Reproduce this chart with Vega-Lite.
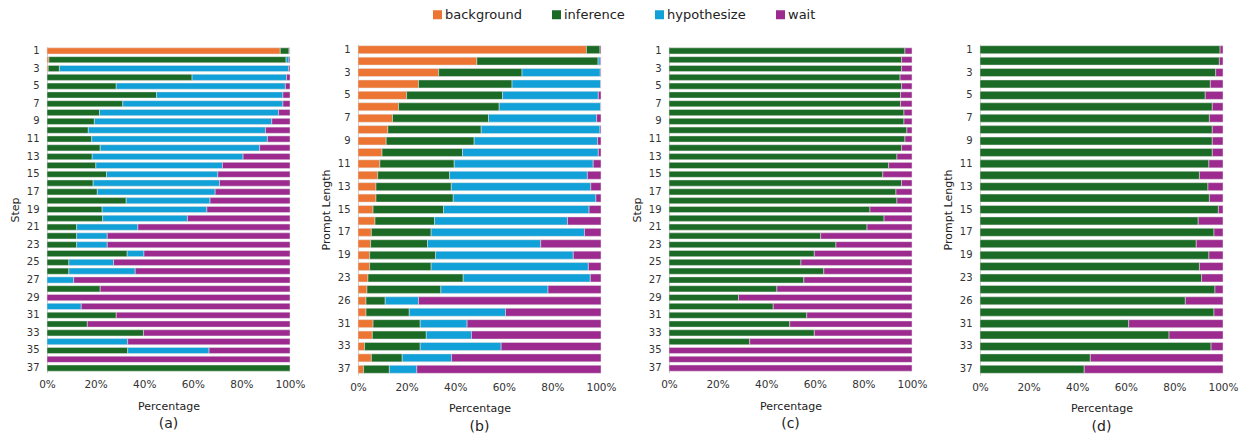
{
  "$schema": "https://vega.github.io/schema/vega-lite/v6.json",
  "background": "white",
  "padding": {"left": 9, "top": 8, "right": 5, "bottom": 5},
  "bounds": "flush",
  "center": true,
  "spacing": 68,
  "datasets": {
    "a": [
      {"step":1,"behavior":"background","pct":96.0},{"step":1,"behavior":"inference","pct":3.6},{"step":1,"behavior":"hypothesize","pct":0.2},{"step":1,"behavior":"wait","pct":0.2},
      {"step":2,"behavior":"background","pct":0.8},{"step":2,"behavior":"inference","pct":97.6},{"step":2,"behavior":"hypothesize","pct":1.2},{"step":2,"behavior":"wait","pct":0.4},
      {"step":3,"behavior":"background","pct":0.5},{"step":3,"behavior":"inference","pct":4.6},{"step":3,"behavior":"hypothesize","pct":94.4},{"step":3,"behavior":"wait","pct":0.5},
      {"step":4,"behavior":"inference","pct":59.7},{"step":4,"behavior":"hypothesize","pct":38.9},{"step":4,"behavior":"wait","pct":1.4},
      {"step":5,"behavior":"inference","pct":28.5},{"step":5,"behavior":"hypothesize","pct":69.6},{"step":5,"behavior":"wait","pct":1.9},
      {"step":6,"behavior":"inference","pct":45.1},{"step":6,"behavior":"hypothesize","pct":52.0},{"step":6,"behavior":"wait","pct":2.9},
      {"step":7,"behavior":"inference","pct":31.2},{"step":7,"behavior":"hypothesize","pct":65.9},{"step":7,"behavior":"wait","pct":2.9},
      {"step":8,"behavior":"inference","pct":21.6},{"step":8,"behavior":"hypothesize","pct":73.7},{"step":8,"behavior":"wait","pct":4.7},
      {"step":9,"behavior":"inference","pct":19.5},{"step":9,"behavior":"hypothesize","pct":73.0},{"step":9,"behavior":"wait","pct":7.5},
      {"step":10,"behavior":"inference","pct":17.0},{"step":10,"behavior":"hypothesize","pct":72.9},{"step":10,"behavior":"wait","pct":10.1},
      {"step":11,"behavior":"inference","pct":18.4},{"step":11,"behavior":"hypothesize","pct":72.3},{"step":11,"behavior":"wait","pct":9.3},
      {"step":12,"behavior":"inference","pct":21.9},{"step":12,"behavior":"hypothesize","pct":65.6},{"step":12,"behavior":"wait","pct":12.5},
      {"step":13,"behavior":"inference","pct":18.6},{"step":13,"behavior":"hypothesize","pct":62.1},{"step":13,"behavior":"wait","pct":19.3},
      {"step":14,"behavior":"inference","pct":20.1},{"step":14,"behavior":"hypothesize","pct":52.1},{"step":14,"behavior":"wait","pct":27.8},
      {"step":15,"behavior":"inference","pct":24.5},{"step":15,"behavior":"hypothesize","pct":45.8},{"step":15,"behavior":"wait","pct":29.7},
      {"step":16,"behavior":"inference","pct":19.0},{"step":16,"behavior":"hypothesize","pct":52.0},{"step":16,"behavior":"wait","pct":29.0},
      {"step":17,"behavior":"inference","pct":20.7},{"step":17,"behavior":"hypothesize","pct":48.5},{"step":17,"behavior":"wait","pct":30.8},
      {"step":18,"behavior":"inference","pct":32.6},{"step":18,"behavior":"hypothesize","pct":34.5},{"step":18,"behavior":"wait","pct":32.9},
      {"step":19,"behavior":"inference","pct":22.7},{"step":19,"behavior":"hypothesize","pct":43.1},{"step":19,"behavior":"wait","pct":34.2},
      {"step":20,"behavior":"inference","pct":22.9},{"step":20,"behavior":"hypothesize","pct":34.9},{"step":20,"behavior":"wait","pct":42.2},
      {"step":21,"behavior":"inference","pct":12.2},{"step":21,"behavior":"hypothesize","pct":25.2},{"step":21,"behavior":"wait","pct":62.6},
      {"step":22,"behavior":"inference","pct":12.2},{"step":22,"behavior":"hypothesize","pct":12.6},{"step":22,"behavior":"wait","pct":75.2},
      {"step":23,"behavior":"inference","pct":12.2},{"step":23,"behavior":"hypothesize","pct":12.6},{"step":23,"behavior":"wait","pct":75.2},
      {"step":24,"behavior":"inference","pct":33.0},{"step":24,"behavior":"hypothesize","pct":6.9},{"step":24,"behavior":"wait","pct":60.1},
      {"step":25,"behavior":"inference","pct":9.0},{"step":25,"behavior":"hypothesize","pct":18.4},{"step":25,"behavior":"wait","pct":72.6},
      {"step":26,"behavior":"inference","pct":9.0},{"step":26,"behavior":"hypothesize","pct":27.3},{"step":26,"behavior":"wait","pct":63.7},
      {"step":27,"behavior":"hypothesize","pct":11.0},{"step":27,"behavior":"wait","pct":89.0},
      {"step":28,"behavior":"inference","pct":21.9},{"step":28,"behavior":"wait","pct":78.1},
      {"step":29,"behavior":"wait","pct":100},
      {"step":30,"behavior":"hypothesize","pct":14.1},{"step":30,"behavior":"wait","pct":85.9},
      {"step":31,"behavior":"inference","pct":28.5},{"step":31,"behavior":"wait","pct":71.5},
      {"step":32,"behavior":"inference","pct":16.6},{"step":32,"behavior":"wait","pct":83.4},
      {"step":33,"behavior":"inference","pct":39.7},{"step":33,"behavior":"wait","pct":60.3},
      {"step":34,"behavior":"hypothesize","pct":33.2},{"step":34,"behavior":"wait","pct":66.8},
      {"step":35,"behavior":"inference","pct":33.2},{"step":35,"behavior":"hypothesize","pct":33.5},{"step":35,"behavior":"wait","pct":33.3},
      {"step":36,"behavior":"wait","pct":100},
      {"step":37,"behavior":"inference","pct":100}
    ],
    "b": [
      {"len":1,"behavior":"background","pct":94.0},{"len":1,"behavior":"inference","pct":5.6},{"len":1,"behavior":"wait","pct":0.4},
      {"len":2,"behavior":"background","pct":48.9},{"len":2,"behavior":"inference","pct":49.9},{"len":2,"behavior":"hypothesize","pct":0.9},{"len":2,"behavior":"wait","pct":0.3},
      {"len":3,"behavior":"background","pct":33.2},{"len":3,"behavior":"inference","pct":34.3},{"len":3,"behavior":"hypothesize","pct":32.2},{"len":3,"behavior":"wait","pct":0.3},
      {"len":4,"behavior":"background","pct":24.9},{"len":4,"behavior":"inference","pct":38.5},{"len":4,"behavior":"hypothesize","pct":36.4},{"len":4,"behavior":"wait","pct":0.2},
      {"len":5,"behavior":"background","pct":20.0},{"len":5,"behavior":"inference","pct":39.5},{"len":5,"behavior":"hypothesize","pct":39.4},{"len":5,"behavior":"wait","pct":1.1},
      {"len":6,"behavior":"background","pct":16.7},{"len":6,"behavior":"inference","pct":41.4},{"len":6,"behavior":"hypothesize","pct":41.7},{"len":6,"behavior":"wait","pct":0.2},
      {"len":7,"behavior":"background","pct":14.2},{"len":7,"behavior":"inference","pct":39.5},{"len":7,"behavior":"hypothesize","pct":44.5},{"len":7,"behavior":"wait","pct":1.8},
      {"len":8,"behavior":"background","pct":12.3},{"len":8,"behavior":"inference","pct":38.4},{"len":8,"behavior":"hypothesize","pct":48.9},{"len":8,"behavior":"wait","pct":0.4},
      {"len":9,"behavior":"background","pct":11.6},{"len":9,"behavior":"inference","pct":36.2},{"len":9,"behavior":"hypothesize","pct":50.8},{"len":9,"behavior":"wait","pct":1.4},
      {"len":10,"behavior":"background","pct":9.9},{"len":10,"behavior":"inference","pct":33.1},{"len":10,"behavior":"hypothesize","pct":55.9},{"len":10,"behavior":"wait","pct":1.1},
      {"len":11,"behavior":"background","pct":9.0},{"len":11,"behavior":"inference","pct":30.6},{"len":11,"behavior":"hypothesize","pct":57.2},{"len":11,"behavior":"wait","pct":3.2},
      {"len":12,"behavior":"background","pct":8.1},{"len":12,"behavior":"inference","pct":29.6},{"len":12,"behavior":"hypothesize","pct":56.7},{"len":12,"behavior":"wait","pct":5.6},
      {"len":13,"behavior":"background","pct":7.4},{"len":13,"behavior":"inference","pct":31.0},{"len":13,"behavior":"hypothesize","pct":57.4},{"len":13,"behavior":"wait","pct":4.2},
      {"len":14,"behavior":"background","pct":7.4},{"len":14,"behavior":"inference","pct":31.8},{"len":14,"behavior":"hypothesize","pct":58.7},{"len":14,"behavior":"wait","pct":2.1},
      {"len":15,"behavior":"background","pct":6.2},{"len":15,"behavior":"inference","pct":29.0},{"len":15,"behavior":"hypothesize","pct":59.9},{"len":15,"behavior":"wait","pct":4.9},
      {"len":16,"behavior":"background","pct":7.0},{"len":16,"behavior":"inference","pct":24.5},{"len":16,"behavior":"hypothesize","pct":54.7},{"len":16,"behavior":"wait","pct":13.8},
      {"len":17,"behavior":"background","pct":5.5},{"len":17,"behavior":"inference","pct":24.6},{"len":17,"behavior":"hypothesize","pct":63.1},{"len":17,"behavior":"wait","pct":6.8},
      {"len":18,"behavior":"background","pct":5.2},{"len":18,"behavior":"inference","pct":23.4},{"len":18,"behavior":"hypothesize","pct":46.6},{"len":18,"behavior":"wait","pct":24.8},
      {"len":19,"behavior":"background","pct":4.8},{"len":19,"behavior":"inference","pct":27.1},{"len":19,"behavior":"hypothesize","pct":56.7},{"len":19,"behavior":"wait","pct":11.4},
      {"len":21,"behavior":"background","pct":4.8},{"len":21,"behavior":"inference","pct":25.3},{"len":21,"behavior":"hypothesize","pct":64.7},{"len":21,"behavior":"wait","pct":5.2},
      {"len":23,"behavior":"background","pct":4.1},{"len":23,"behavior":"inference","pct":39.2},{"len":23,"behavior":"hypothesize","pct":52.3},{"len":23,"behavior":"wait","pct":4.4},
      {"len":25,"behavior":"background","pct":3.7},{"len":25,"behavior":"inference","pct":30.4},{"len":25,"behavior":"hypothesize","pct":44.1},{"len":25,"behavior":"wait","pct":21.8},
      {"len":26,"behavior":"background","pct":3.3},{"len":26,"behavior":"inference","pct":7.9},{"len":26,"behavior":"hypothesize","pct":13.7},{"len":26,"behavior":"wait","pct":75.1},
      {"len":29,"behavior":"background","pct":3.3},{"len":29,"behavior":"inference","pct":17.8},{"len":29,"behavior":"hypothesize","pct":39.6},{"len":29,"behavior":"wait","pct":39.3},
      {"len":31,"behavior":"background","pct":6.2},{"len":31,"behavior":"inference","pct":19.4},{"len":31,"behavior":"hypothesize","pct":19.3},{"len":31,"behavior":"wait","pct":55.1},
      {"len":32,"behavior":"background","pct":5.9},{"len":32,"behavior":"inference","pct":22.2},{"len":32,"behavior":"hypothesize","pct":18.6},{"len":32,"behavior":"wait","pct":53.3},
      {"len":33,"behavior":"background","pct":2.7},{"len":33,"behavior":"inference","pct":22.9},{"len":33,"behavior":"hypothesize","pct":33.3},{"len":33,"behavior":"wait","pct":41.1},
      {"len":35,"behavior":"background","pct":5.5},{"len":35,"behavior":"inference","pct":12.7},{"len":35,"behavior":"hypothesize","pct":20.3},{"len":35,"behavior":"wait","pct":61.5},
      {"len":37,"behavior":"background","pct":2.3},{"len":37,"behavior":"inference","pct":10.6},{"len":37,"behavior":"hypothesize","pct":11.3},{"len":37,"behavior":"wait","pct":75.8}
    ],
    "c": [
      {"step":1,"behavior":"inference","pct":97.1},{"step":1,"behavior":"wait","pct":2.9},
      {"step":2,"behavior":"inference","pct":95.7},{"step":2,"behavior":"wait","pct":4.3},
      {"step":3,"behavior":"inference","pct":95.7},{"step":3,"behavior":"wait","pct":4.3},
      {"step":4,"behavior":"inference","pct":95.1},{"step":4,"behavior":"wait","pct":4.9},
      {"step":5,"behavior":"inference","pct":95.7},{"step":5,"behavior":"wait","pct":4.3},
      {"step":6,"behavior":"inference","pct":95.3},{"step":6,"behavior":"wait","pct":4.7},
      {"step":7,"behavior":"inference","pct":95.3},{"step":7,"behavior":"wait","pct":4.7},
      {"step":8,"behavior":"inference","pct":96.7},{"step":8,"behavior":"wait","pct":3.3},
      {"step":9,"behavior":"inference","pct":96.7},{"step":9,"behavior":"wait","pct":3.3},
      {"step":10,"behavior":"inference","pct":97.9},{"step":10,"behavior":"wait","pct":2.1},
      {"step":11,"behavior":"inference","pct":97.1},{"step":11,"behavior":"wait","pct":2.9},
      {"step":12,"behavior":"inference","pct":95.7},{"step":12,"behavior":"wait","pct":4.3},
      {"step":13,"behavior":"inference","pct":93.8},{"step":13,"behavior":"wait","pct":6.2},
      {"step":14,"behavior":"inference","pct":90.4},{"step":14,"behavior":"wait","pct":9.6},
      {"step":15,"behavior":"inference","pct":88.0},{"step":15,"behavior":"wait","pct":12.0},
      {"step":16,"behavior":"inference","pct":95.7},{"step":16,"behavior":"wait","pct":4.3},
      {"step":17,"behavior":"inference","pct":93.4},{"step":17,"behavior":"wait","pct":6.6},
      {"step":18,"behavior":"inference","pct":93.8},{"step":18,"behavior":"wait","pct":6.2},
      {"step":19,"behavior":"inference","pct":82.7},{"step":19,"behavior":"wait","pct":17.3},
      {"step":20,"behavior":"inference","pct":88.5},{"step":20,"behavior":"wait","pct":11.5},
      {"step":21,"behavior":"inference","pct":81.5},{"step":21,"behavior":"wait","pct":18.5},
      {"step":22,"behavior":"inference","pct":62.4},{"step":22,"behavior":"wait","pct":37.6},
      {"step":23,"behavior":"inference","pct":68.7},{"step":23,"behavior":"wait","pct":31.3},
      {"step":24,"behavior":"inference","pct":59.8},{"step":24,"behavior":"wait","pct":40.2},
      {"step":25,"behavior":"inference","pct":54.3},{"step":25,"behavior":"wait","pct":45.7},
      {"step":26,"behavior":"inference","pct":63.7},{"step":26,"behavior":"wait","pct":36.3},
      {"step":27,"behavior":"inference","pct":55.5},{"step":27,"behavior":"wait","pct":44.5},
      {"step":28,"behavior":"inference","pct":44.4},{"step":28,"behavior":"wait","pct":55.6},
      {"step":29,"behavior":"inference","pct":28.6},{"step":29,"behavior":"wait","pct":71.4},
      {"step":30,"behavior":"inference","pct":42.9},{"step":30,"behavior":"wait","pct":57.1},
      {"step":31,"behavior":"inference","pct":56.7},{"step":31,"behavior":"wait","pct":43.3},
      {"step":32,"behavior":"inference","pct":49.7},{"step":32,"behavior":"wait","pct":50.3},
      {"step":33,"behavior":"inference","pct":59.8},{"step":33,"behavior":"wait","pct":40.2},
      {"step":34,"behavior":"inference","pct":33.2},{"step":34,"behavior":"wait","pct":66.8},
      {"step":35,"behavior":"wait","pct":100},
      {"step":36,"behavior":"wait","pct":100},
      {"step":37,"behavior":"wait","pct":100}
    ],
    "d": [
      {"len":1,"behavior":"inference","pct":98.8},{"len":1,"behavior":"wait","pct":1.2},
      {"len":2,"behavior":"inference","pct":98.5},{"len":2,"behavior":"wait","pct":1.5},
      {"len":3,"behavior":"inference","pct":97.0},{"len":3,"behavior":"wait","pct":3.0},
      {"len":4,"behavior":"inference","pct":94.8},{"len":4,"behavior":"wait","pct":5.2},
      {"len":5,"behavior":"inference","pct":92.7},{"len":5,"behavior":"wait","pct":7.3},
      {"len":6,"behavior":"inference","pct":95.6},{"len":6,"behavior":"wait","pct":4.4},
      {"len":7,"behavior":"inference","pct":94.4},{"len":7,"behavior":"wait","pct":5.6},
      {"len":8,"behavior":"inference","pct":95.6},{"len":8,"behavior":"wait","pct":4.4},
      {"len":9,"behavior":"inference","pct":95.6},{"len":9,"behavior":"wait","pct":4.4},
      {"len":10,"behavior":"inference","pct":95.6},{"len":10,"behavior":"wait","pct":4.4},
      {"len":11,"behavior":"inference","pct":94.2},{"len":11,"behavior":"wait","pct":5.8},
      {"len":12,"behavior":"inference","pct":90.3},{"len":12,"behavior":"wait","pct":9.7},
      {"len":13,"behavior":"inference","pct":93.8},{"len":13,"behavior":"wait","pct":6.2},
      {"len":14,"behavior":"inference","pct":94.4},{"len":14,"behavior":"wait","pct":5.6},
      {"len":15,"behavior":"inference","pct":98.1},{"len":15,"behavior":"wait","pct":1.9},
      {"len":16,"behavior":"inference","pct":89.8},{"len":16,"behavior":"wait","pct":10.2},
      {"len":17,"behavior":"inference","pct":96.3},{"len":17,"behavior":"wait","pct":3.7},
      {"len":18,"behavior":"inference","pct":89.0},{"len":18,"behavior":"wait","pct":11.0},
      {"len":19,"behavior":"inference","pct":94.2},{"len":19,"behavior":"wait","pct":5.8},
      {"len":21,"behavior":"inference","pct":90.3},{"len":21,"behavior":"wait","pct":9.7},
      {"len":23,"behavior":"inference","pct":91.2},{"len":23,"behavior":"wait","pct":8.8},
      {"len":25,"behavior":"inference","pct":96.7},{"len":25,"behavior":"wait","pct":3.3},
      {"len":26,"behavior":"inference","pct":84.5},{"len":26,"behavior":"wait","pct":15.5},
      {"len":29,"behavior":"inference","pct":96.3},{"len":29,"behavior":"wait","pct":3.7},
      {"len":31,"behavior":"inference","pct":61.2},{"len":31,"behavior":"wait","pct":38.8},
      {"len":32,"behavior":"inference","pct":77.8},{"len":32,"behavior":"wait","pct":22.2},
      {"len":33,"behavior":"inference","pct":95.1},{"len":33,"behavior":"wait","pct":4.9},
      {"len":35,"behavior":"inference","pct":45.4},{"len":35,"behavior":"wait","pct":54.6},
      {"len":37,"behavior":"inference","pct":42.9},{"len":37,"behavior":"wait","pct":57.1}
    ]
  },
  "hconcat": [
    {
      "data": {"name": "a"},
      "transform": [{"calculate": "indexof(['background','inference','hypothesize','wait'], datum.behavior)", "as": "rank"}],
      "width": 243, "height": 326,
      "title": {"text": "(a)", "orient": "bottom"},
      "mark": {"type": "bar", "stroke": "#e4e4e4", "strokeWidth": 0.5},
      "encoding": {
        "y": {"field": "step", "type": "ordinal", "title": "Step",
              "scale": {"paddingInner": 0.3, "paddingOuter": 0.15},
              "axis": {"values": [1,3,5,7,9,11,13,15,17,19,21,23,25,27,29,31,33,35,37]}},
        "x": {"field": "pct", "type": "quantitative", "stack": "normalize", "title": "Percentage",
              "scale": {"domain": [0, 1]},
              "axis": {"format": ".0%", "values": [0, 0.2, 0.4, 0.6, 0.8, 1]}},
        "order": {"field": "rank", "type": "quantitative"},
        "color": {"field": "behavior", "type": "nominal",
                  "scale": {"domain": ["background", "inference", "hypothesize", "wait"], "range": ["#ec7533", "#1b6b26", "#12a0d8", "#9c2a8f"]},
                  "legend": {"orient": "none", "legendX": 384, "legendY": -36, "direction": "horizontal", "title": null}}
      }
    },
    {
      "data": {"name": "b"},
      "transform": [{"calculate": "indexof(['background','inference','hypothesize','wait'], datum.behavior)", "as": "rank"}],
      "width": 243, "height": 331,
      "title": {"text": "(b)", "orient": "bottom"},
      "mark": {"type": "bar", "stroke": "#e4e4e4", "strokeWidth": 0.5},
      "encoding": {
        "y": {"field": "len", "type": "ordinal", "title": "Prompt Length",
              "scale": {"paddingInner": 0.3, "paddingOuter": 0.15},
              "axis": {"values": [1,3,5,7,9,11,13,15,17,19,23,26,31,33,37]}},
        "x": {"field": "pct", "type": "quantitative", "stack": "normalize", "title": "Percentage",
              "scale": {"domain": [0, 1]},
              "axis": {"format": ".0%", "values": [0, 0.2, 0.4, 0.6, 0.8, 1]}},
        "order": {"field": "rank", "type": "quantitative"},
        "color": {"field": "behavior", "type": "nominal",
                  "scale": {"domain": ["background", "inference", "hypothesize", "wait"], "range": ["#ec7533", "#1b6b26", "#12a0d8", "#9c2a8f"]},
                  "legend": {"orient": "none", "legendX": 384, "legendY": -36, "direction": "horizontal", "title": null}}
      }
    },
    {
      "data": {"name": "c"},
      "transform": [{"calculate": "indexof(['background','inference','hypothesize','wait'], datum.behavior)", "as": "rank"}],
      "width": 243, "height": 326,
      "title": {"text": "(c)", "orient": "bottom"},
      "mark": {"type": "bar", "stroke": "#e4e4e4", "strokeWidth": 0.5},
      "encoding": {
        "y": {"field": "step", "type": "ordinal", "title": "Step",
              "scale": {"paddingInner": 0.3, "paddingOuter": 0.15},
              "axis": {"values": [1,3,5,7,9,11,13,15,17,19,21,23,25,27,29,31,33,35,37]}},
        "x": {"field": "pct", "type": "quantitative", "stack": "normalize", "title": "Percentage",
              "scale": {"domain": [0, 1]},
              "axis": {"format": ".0%", "values": [0, 0.2, 0.4, 0.6, 0.8, 1]}},
        "order": {"field": "rank", "type": "quantitative"},
        "color": {"field": "behavior", "type": "nominal",
                  "scale": {"domain": ["background", "inference", "hypothesize", "wait"], "range": ["#ec7533", "#1b6b26", "#12a0d8", "#9c2a8f"]},
                  "legend": {"orient": "none", "legendX": 384, "legendY": -36, "direction": "horizontal", "title": null}}
      }
    },
    {
      "data": {"name": "d"},
      "transform": [{"calculate": "indexof(['background','inference','hypothesize','wait'], datum.behavior)", "as": "rank"}],
      "width": 243, "height": 331,
      "title": {"text": "(d)", "orient": "bottom"},
      "mark": {"type": "bar", "stroke": "#e4e4e4", "strokeWidth": 0.5},
      "encoding": {
        "y": {"field": "len", "type": "ordinal", "title": "Prompt Length",
              "scale": {"paddingInner": 0.3, "paddingOuter": 0.15},
              "axis": {"values": [1,3,5,7,9,11,13,15,17,19,23,26,31,33,37]}},
        "x": {"field": "pct", "type": "quantitative", "stack": "normalize", "title": "Percentage",
              "scale": {"domain": [0, 1]},
              "axis": {"format": ".0%", "values": [0, 0.2, 0.4, 0.6, 0.8, 1]}},
        "order": {"field": "rank", "type": "quantitative"},
        "color": {"field": "behavior", "type": "nominal",
                  "scale": {"domain": ["background", "inference", "hypothesize", "wait"], "range": ["#ec7533", "#1b6b26", "#12a0d8", "#9c2a8f"]},
                  "legend": {"orient": "none", "legendX": 384, "legendY": -36, "direction": "horizontal", "title": null}}
      }
    }
  ],
  "config": {
    "font": "DejaVu Sans",
    "view": {"stroke": null},
    "axis": {"ticks": false, "grid": false, "labelColor": "#333333", "titleColor": "#222222", "titleFontWeight": "normal", "domainColor": "#cccccc", "domainWidth": 1},
    "axisX": {"domain": false, "labelFlush": false, "labelFontSize": 10.5, "labelPadding": 7, "titleFontSize": 11, "titlePadding": 10},
    "axisY": {"labelFontSize": 10, "labelPadding": 8, "titleFontSize": 11, "titlePadding": 6},
    "title": {"fontSize": 14, "fontWeight": "normal", "color": "#222222", "offset": 6},
    "legend": {"labelFontSize": 13, "labelColor": "#222222", "symbolType": "square", "symbolSize": 81, "symbolStrokeWidth": 0, "labelOffset": 1, "columnPadding": 28}
  }
}
